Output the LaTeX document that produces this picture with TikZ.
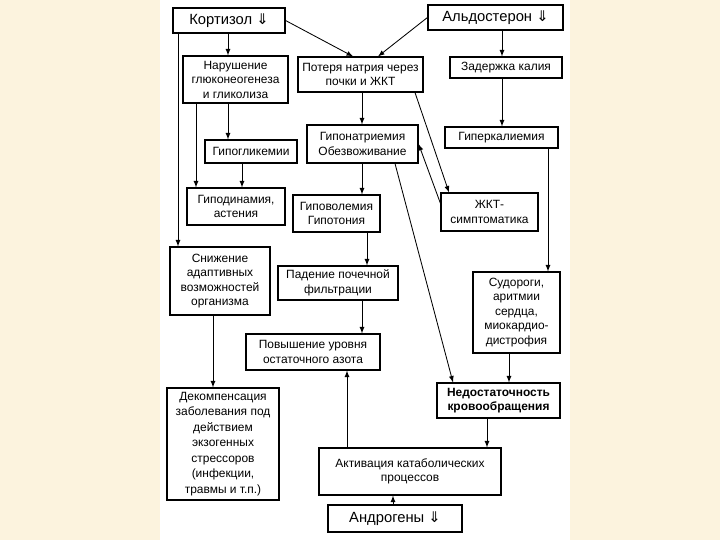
\documentclass[tikz,border=0pt]{standalone}
\usepackage{fontspec}
\setmainfont{Liberation Sans}
\newfontfamily\symfont{DejaVu Sans}
\definecolor{paper}{RGB}{252,243,222}
\newcommand{\lowarrow}{{\symfont ⇓}}
\tikzset{
  box/.style={draw,line width=0.8pt,fill=white,align=center,inner sep=1pt,font=\fontsize{8.5}{10.3}\selectfont},
  hormone/.style={box,font=\fontsize{10.5}{12}\selectfont},
  arr/.style={-latex,line width=0.6pt}
}

\begin{document}
\begin{tikzpicture}[x=0.025cm,y=-0.025cm]
  \useasboundingbox (0,0) rectangle (720,540);
  \fill[paper] (0,0) rectangle (720,540);
  \fill[white] (160,0) rectangle (570,540);
  % hormones
  \node[hormone,minimum width=2.8cm,minimum height=0.625cm] (kort) at (229,20.5) {Кортизол \lowarrow};
  \node[hormone,minimum width=3.375cm,minimum height=0.625cm] (aldo) at (495.5,17.5) {Альдостерон \lowarrow};
  \node[hormone,minimum width=3.35cm,minimum height=0.675cm] (andro) at (395,518.5) {Андрогены \lowarrow};
  % first row
  \node[box,minimum width=2.625cm,minimum height=1.175cm] (narush) at (235.5,79.5) {Нарушение\\глюконеогенеза\\и гликолиза};
  \node[box,minimum width=3.125cm,minimum height=0.875cm] (poter) at (360.5,74.5) {Потеря натрия через\\почки и ЖКТ};
  \node[box,minimum width=2.8cm,minimum height=0.525cm] (zader) at (506,67.5) {Задержка калия};
  % second row
  \node[box,minimum width=2.3cm,minimum height=0.575cm] (gipogl) at (251,151.5) {Гипогликемии};
  \node[box,minimum width=2.775cm,minimum height=0.95cm] (gipona) at (362.5,144) {Гипонатриемия\\Обезвоживание};
  \node[box,minimum width=2.825cm,minimum height=0.525cm] (gipk) at (501.5,137.5) {Гиперкалиемия};
  % third row
  \node[box,minimum width=2.45cm,minimum height=0.925cm] (gipod) at (236,206.5) {Гиподинамия,\\астения};
  \node[box,minimum width=2.175cm,minimum height=0.925cm] (gipov) at (336.5,213.5) {Гиповолемия\\Гипотония};
  \node[box,minimum width=2.425cm,minimum height=0.95cm] (zhkt) at (489.5,212) {ЖКТ-\\симптоматика};
  % fourth row
  \node[box,minimum width=2.5cm,minimum height=1.7cm] (snizh) at (220,281) {Снижение\\адаптивных\\возможностей\\организма};
  \node[box,minimum width=3cm,minimum height=0.85cm] (paden) at (338,283) {Падение почечной\\фильтрации};
  \node[box,minimum width=2.175cm,minimum height=2.025cm] (sudor) at (516.5,312.5) {Судороги,\\аритмии\\сердца,\\миокардио-\\дистрофия};
  \node[box,minimum width=3.35cm,minimum height=0.9cm] (povysh) at (313,352) {Повышение уровня\\остаточного азота};
  % bottom
  \node[box,minimum width=3.075cm,minimum height=0.875cm,font=\fontsize{8.5}{10.3}\selectfont\bfseries] (nedost) at (498.5,400.5) {Недостаточность\\кровообращения};
  \node[box,minimum width=2.8cm,minimum height=2.8cm,font=\fontsize{8.5}{11}\selectfont] (dekomp) at (223,444) {Декомпенсация\\заболевания под\\действием\\экзогенных\\стрессоров\\(инфекции,\\травмы и т.п.)};
  \node[box,minimum width=4.55cm,minimum height=1.175cm] (aktiv) at (410,471.5) {Активация катаболических\\процессов};
  % connectors
  \draw[arr] (kort.east) -- (poter.north -| 353,0);
  \draw[arr] (aldo.west) -- (poter.north -| 378,0);
  \draw[arr] (kort.south -| 228,0) -- (narush.north -| 228,0);
  \draw[arr] (kort.south -| 178,0) -- (snizh.north -| 178,0);
  \draw[arr] (aldo.south -| 502,0) -- (zader.north -| 502,0);
  \draw[arr] (zader.south -| 502,0) -- (gipk.north -| 502,0);
  \draw[arr] (narush.south -| 228,0) -- (gipogl.north -| 228,0);
  \draw[arr] (narush.south -| 196,0) -- (gipod.north -| 196,0);
  \draw[arr] (gipogl.south -| 242,0) -- (gipod.north -| 242,0);
  \draw[arr] (poter.south -| 362,0) -- (gipona.north -| 362,0);
  \draw[arr] (poter.south -| 415,0) -- (zhkt.north -| 449,0);
  \draw[arr] (zhkt.170) -- (gipona.east);
  \draw[arr] (gipona.south -| 362,0) -- (gipov.north -| 362,0);
  \draw[arr] (gipona.south -| 395,0) -- (nedost.north -| 453,0);
  \draw[arr] (gipk.south -| 548,0) -- (sudor.north -| 548,0);
  \draw[arr] (gipov.south -| 367,0) -- (paden.north -| 367,0);
  \draw[arr] (paden.south -| 362,0) -- (povysh.north -| 362,0);
  \draw[arr] (sudor.south -| 509,0) -- (nedost.north -| 509,0);
  \draw[arr] (snizh.south -| 213,0) -- (dekomp.north -| 213,0);
  \draw[arr] (nedost.south -| 487,0) -- (aktiv.north -| 487,0);
  \draw[arr] (aktiv.north -| 347,0) -- (povysh.south -| 347,0);
  \draw[arr] (andro.north -| 393,0) -- (aktiv.south -| 393,0);
\end{tikzpicture}
\end{document}
